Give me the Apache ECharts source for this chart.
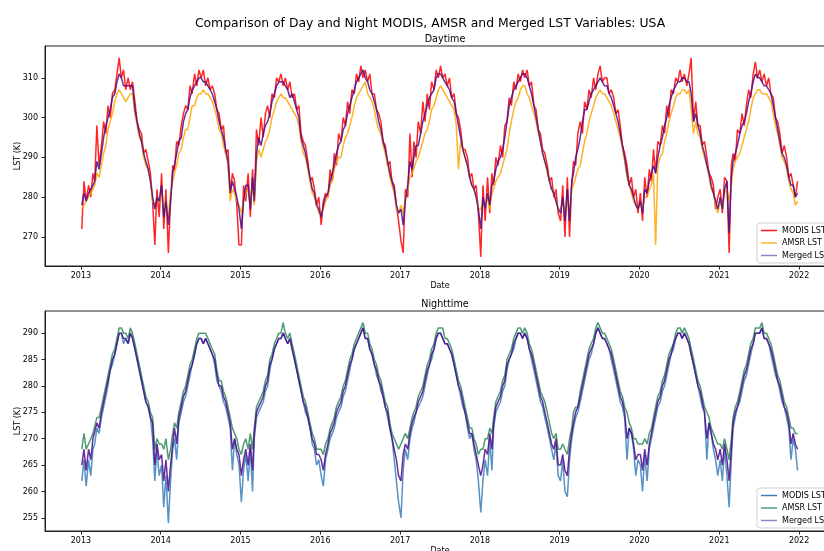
<!DOCTYPE html>
<html>
<head>
<meta charset="utf-8">
<script src="https://cdn.jsdelivr.net/npm/echarts@6/dist/echarts.min.js"></script>
<style>html,body{margin:0;padding:0;background:#fff;}#c{width:824px;height:551px;}</style>
</head>
<body>
<div id="c"></div>
<script>
// ---------------- DATA ----------------
const years = [2013,2014,2015,2016,2017,2018,2019,2020,2021];
const sampleDays = [5,15,25]; // three readings per month
const yearTicks = [2013,2014,2015,2016,2017,2018,2019,2020,2021,2022];
const dayTicks = [270,280,290,300,310];
const nightTicks = [255,260,265,270,275,280,285,290];
const seriesNames = ['MODIS LST','AMSR LST','Merged LST'];

// Daytime (K), 36 readings per year, 2013..2021
const dayModis = [
 272,284,279, 283,280,286, 284,298,288, 293,299,296, 303,300,306, 307,311,315, 310,312,307, 310,307,309, 304,299,297, 296,291,292, 289,286,279, 268,282,275,
 286,272,282, 266,279,288, 287,294,293, 298,301,303, 302,308,306, 311,308,312, 310,312,308, 310,307,308, 306,302,301, 297,298,291, 292,281,286, 284,278,268,
 268,283,279, 286,275,287, 279,297,293, 300,295,301, 303,300,306, 305,310,309, 311,308,310, 307,309,305, 306,302,303, 296,294,293, 289,284,285, 282,278,280,
 273,279,281, 280,287,284, 291,288,296, 294,300,298, 304,301,307, 306,311,309, 313,310,312, 309,311,306, 306,302,301, 299,294,293, 288,289,284, 283,278,274,
 269,266,282, 280,296,285, 294,290,299, 296,304,299, 306,302,309, 307,312,310, 313,310,311, 308,310,305, 306,301,300, 297,292,292, 290,285,286, 282,283,276,
 265,283,274, 285,276,286, 283,290,288, 293,290,298, 299,305,303, 309,307,311, 309,312,310, 312,308,309, 303,302,297, 296,292,291, 288,284,285, 280,282,276,
 274,283,270, 285,270,283, 289,288,296, 299,296,304, 302,307,305, 310,307,311, 313,309,310, 310,306,307, 305,301,302, 298,293,291, 288,283,285, 280,282,276,
 281,274,285, 280,287,284, 292,286,294, 293,298,296, 303,300,307, 306,310,309, 312,309,311, 308,311,315, 299,304,298, 298,293,294, 290,286,285, 283,277,280,
 282,276,285, 284,266,288, 291,289,297, 296,301,298, 303,307,305, 311,314,310, 312,309,311, 308,310,306, 305,300,299, 296,291,293, 290,285,286, 283,280,284
];
const dayAmsr = [
 277,278,279, 280,281,282, 283,286,285, 288,291,293, 297,299,301, 304,306,307, 306,305,304, 305,306,306, 301,298,295, 294,290,288, 287,284,279, 278,280,279,
 281,277,279, 275,281,284, 286,288,291, 292,295,297, 297,300,303, 303,305,306, 306,307,306, 306,305,304, 302,300,297, 296,293,291, 288,279,282, 281,279,278,
 276,279,281, 282,278,283, 278,289,292, 290,292,294, 295,297,300, 302,304,305, 306,305,305, 304,303,302, 301,300,298, 294,291,290, 287,284,281, 280,278,276,
 276,277,279, 280,283,284, 287,289,290, 290,293,295, 296,298,300, 303,305,306, 307,308,309, 306,305,304, 302,299,297, 296,293,291, 288,285,283, 281,277,276,
 278,276,280, 282,285,286, 286,289,290, 292,294,296, 297,299,302, 303,305,307, 308,307,306, 305,304,303, 302,298,287, 294,292,290, 288,285,283, 282,280,277,
 277,279,277, 280,277,281, 282,284,285, 286,288,290, 292,296,299, 302,304,305, 307,308,308, 306,305,303, 301,299,296, 294,291,289, 286,284,282, 281,279,277,
 277,279,276, 280,276,282, 283,285,287, 288,291,294, 296,299,301, 303,305,306, 307,306,306, 305,304,303, 301,299,297, 295,292,289, 285,283,281, 279,278,277,
 278,277,280, 280,282,283, 286,268,288, 290,291,294, 296,299,301, 303,305,306, 306,307,307, 306,307,302, 296,299,296, 295,292,290, 288,285,282, 281,278,276,
 279,277,281, 282,279,283, 287,289,290, 291,293,295, 297,299,302, 305,306,307, 307,306,306, 306,305,304, 301,298,296, 293,290,289, 287,284,282, 281,278,279
];
const dayMerged = [
 278,281,279, 281,282,283, 284,289,287, 291,295,298, 300,302,305, 306,309,311, 310,308,308, 308,308,308, 302,299,296, 294,291,289, 287,284,280, 277,280,279,
 283,275,279, 273,279,286, 288,291,294, 295,299,301, 302,305,307, 308,309,310, 310,309,309, 308,307,306, 304,302,299, 297,295,292, 289,281,284, 282,280,277,
 272,279,283, 283,277,285, 279,291,295, 293,296,298, 299,301,304, 306,308,309, 309,309,308, 307,305,306, 304,302,300, 295,293,291, 288,285,282, 281,278,277,
 275,278,280, 281,284,286, 288,291,293, 294,297,298, 301,303,305, 307,309,310, 311,312,310, 309,307,306, 304,302,299, 297,294,292, 289,286,284, 282,278,276,
 277,273,279, 283,289,287, 290,293,293, 296,299,301, 303,305,306, 307,310,311, 311,310,309, 308,307,305, 304,301,298, 295,292,290, 288,285,283, 282,280,277,
 272,280,277, 281,278,283, 284,287,289, 290,292,295, 299,303,305, 307,308,309, 310,311,311, 310,308,306, 303,300,297, 294,291,289, 287,284,282, 281,279,277,
 276,280,274, 282,274,284, 286,290,292, 295,299,302, 302,304,306, 307,308,309, 310,309,308, 308,306,305, 303,301,299, 296,293,290, 286,283,282, 280,278,277,
 279,276,282, 281,284,286, 288,286,290, 293,295,298, 300,303,305, 307,308,309, 309,310,310, 309,309,306, 299,301,298, 296,293,291, 288,286,283, 281,279,277,
 280,277,282, 284,271,285, 289,291,293, 296,298,299, 301,304,306, 309,311,310, 310,309,308, 308,307,306, 303,300,297, 294,291,290, 288,285,283, 283,280,281
];

// Nighttime (K)
const nightModis = [
 262,266,261, 266,263,268, 269,272,271, 274,276,278, 280,283,284, 286,288,290, 290,288,289, 288,290,289, 287,285,283, 281,279,277, 276,274,270, 262,268,263,
 265,257,263, 254,262,268, 270,266,273, 275,277,278, 280,282,284, 286,288,289, 289,288,289, 288,287,286, 284,281,280, 279,277,276, 274,272,264, 270,267,265,
 258,264,267, 262,268,260, 270,274,275, 276,277,279, 280,283,285, 287,288,289, 289,290,289, 288,289,287, 285,283,281, 279,277,275, 274,272,269, 268,265,266,
 263,261,266, 268,270,271, 272,274,275, 276,278,279, 281,283,285, 287,288,289, 290,291,289, 289,287,286, 284,282,281, 279,278,276, 274,272,270, 266,262,258,
 255,264,268, 266,270,272, 273,275,276, 277,278,280, 282,284,285, 287,289,290, 290,289,288, 288,287,286, 284,282,280, 278,276,275, 272,270,271, 268,266,262,
 256,262,266, 263,270,264, 272,275,276, 277,279,280, 283,285,286, 287,289,290, 290,289,290, 289,287,285, 283,281,279, 277,276,274, 272,270,268, 266,269,263,
 262,266,260, 259,266,270, 272,274,275, 277,279,281, 283,285,286, 288,290,291, 290,289,289, 288,287,285, 283,281,279, 277,276,274, 266,272,271, 268,263,266,
 265,260,267, 262,268,270, 272,274,276, 277,279,280, 282,284,286, 287,289,290, 290,289,290, 289,288,286, 284,282,280, 278,276,275, 266,273,271, 268,266,263,
 266,262,268, 263,257,266, 272,274,276, 277,279,281, 282,284,286, 288,290,290, 290,291,289, 289,288,286, 284,282,281, 279,277,276, 274,272,266, 270,268,264
];
const nightAmsr = [
 268,271,268, 269,270,271, 271,274,274, 276,278,280, 282,284,286, 287,289,291, 291,290,290, 289,291,290, 288,286,284, 282,280,278, 277,275,274, 268,270,269,
 269,268,270, 266,268,271, 273,272,275, 277,279,280, 282,284,285, 287,289,290, 290,290,290, 289,288,287, 286,283,281, 281,279,278, 276,274,272, 271,270,268,
 267,269,270, 268,271,268, 272,276,277, 278,279,281, 282,285,286, 288,289,290, 290,292,290, 289,290,288, 286,284,282, 280,278,277, 275,273,271, 270,268,268,
 268,267,269, 270,272,273, 274,276,277, 278,280,281, 283,285,286, 288,289,290, 291,292,290, 290,288,287, 285,284,282, 281,279,277, 276,273,271, 270,269,268,
 269,270,271, 270,272,274, 275,276,278, 279,280,282, 284,285,287, 288,290,291, 291,291,289, 289,288,287, 285,283,281, 280,278,276, 274,272,272, 270,269,267,
 268,268,270, 270,272,271, 274,277,278, 279,281,282, 285,286,287, 289,290,291, 291,290,291, 290,288,287, 285,283,281, 279,278,277, 275,273,271, 270,271,268,
 268,269,268, 267,270,272, 275,276,276, 279,281,283, 285,287,288, 289,291,292, 291,290,290, 289,288,287, 285,283,281, 279,278,276, 275,273,272, 270,270,269,
 269,269,270, 269,271,272, 274,276,278, 279,281,282, 284,286,287, 288,290,291, 291,290,291, 290,289,287, 285,283,281, 280,278,276, 275,274,272, 271,270,269,
 269,268,270, 268,266,270, 274,276,277, 279,281,283, 284,286,288, 289,291,291, 291,292,290, 290,289,288, 286,284,282, 281,279,277, 276,274,272, 272,271,271
];
const nightMerged = [
 265,268,264, 268,266,270, 270,273,272, 275,277,279, 281,283,285, 286,288,290, 290,289,289, 288,290,289, 287,285,283, 281,279,277, 276,274,273, 265,269,266,
 267,262,266, 260,265,269, 272,269,274, 276,278,279, 281,283,284, 286,288,289, 289,288,289, 288,287,286, 285,282,280, 280,278,277, 275,273,268, 270,268,267,
 263,266,268, 265,269,264, 271,275,276, 277,278,280, 281,284,285, 287,288,289, 289,290,289, 288,289,287, 285,283,281, 279,277,276, 274,272,270, 269,267,267,
 266,264,267, 269,271,272, 273,275,276, 277,279,280, 282,284,285, 287,288,289, 290,291,289, 289,287,286, 284,283,281, 280,278,276, 275,272,270, 268,266,263,
 262,267,269, 268,271,273, 274,275,277, 278,279,281, 283,284,286, 287,289,290, 290,289,288, 288,287,286, 284,282,280, 279,277,275, 273,271,271, 269,267,265,
 263,265,268, 267,271,268, 273,276,277, 278,280,281, 284,285,286, 288,289,290, 290,289,290, 289,287,286, 284,282,280, 278,277,275, 273,271,269, 268,270,265,
 265,267,264, 263,268,271, 273,275,276, 278,280,282, 284,286,287, 288,290,291, 290,289,289, 288,287,286, 284,282,280, 278,277,275, 270,272,271, 269,266,267,
 267,264,268, 265,269,271, 273,275,277, 278,280,281, 283,285,286, 288,289,290, 290,289,290, 289,288,286, 284,282,280, 279,277,275, 270,273,271, 269,268,266,
 268,265,269, 266,262,268, 273,275,276, 278,280,282, 283,285,287, 288,290,290, 290,291,289, 289,288,287, 285,283,281, 280,278,276, 275,273,269, 271,269,268
];

// ---------------- CHART ----------------
// decimal-year positions of the readings
const xs = [];
years.forEach(y => {
  const y0 = Date.UTC(y,0,1), y1 = Date.UTC(y+1,0,1);
  for (let m = 0; m < 12; m++) sampleDays.forEach(d => xs.push(y + (Date.UTC(y,m,d) - y0) / (y1 - y0)));
});
const pair = arr => arr.map((v,i) => [xs[i], v]);

const FONT = 'DejaVu Sans';
const FS = 8;
const axisCol = '#222';
function xAxisCfg(gi) {
  return {
    type:'value', gridIndex:gi, min:2012.55, max:2022.45,
    name:'Date', nameLocation:'middle', nameGap:16, nameMoveOverlap:false,
    nameTextStyle:{fontFamily:FONT,fontSize:FS,color:'#000'},
    axisLine:{show:true,onZero:false,lineStyle:{color:axisCol,width:1}},
    axisTick:{show:true,length:3.5,customValues:yearTicks,lineStyle:{color:axisCol}},
    axisLabel:{customValues:yearTicks,margin:6,fontFamily:FONT,fontSize:FS,color:'#000',formatter:v=>String(Math.round(v))},
    splitLine:{show:false}
  };
}
function yAxisCfg(gi, mn, mx, ticks) {
  return {
    type:'value', gridIndex:gi, min:mn, max:mx,
    name:'LST (K)', nameLocation:'middle', nameGap:23, nameMoveOverlap:false,
    nameTextStyle:{fontFamily:FONT,fontSize:FS,color:'#000'},
    axisLine:{show:true,onZero:false,lineStyle:{color:axisCol,width:1}},
    axisTick:{show:true,length:3.5,customValues:ticks,lineStyle:{color:axisCol}},
    axisLabel:{customValues:ticks,margin:7,fontFamily:FONT,fontSize:FS,color:'#000'},
    splitLine:{show:false}
  };
}
function lineSeries(name, gi, data, color, op) {
  return {
    type:'line', name, xAxisIndex:gi, yAxisIndex:gi, data:pair(data),
    symbol:'none', lineStyle:{color, width:1.5, opacity:op}, itemStyle:{color},
    animation:false, silent:true
  };
}
function legendCfg(top, cols) {
  return {
    orient:'vertical', left:757, top,
    icon:'rect', itemWidth:16, itemHeight:1.5, itemGap:3.5,
    padding:[3,6,3,4],
    borderColor:'#d0d0d0', borderWidth:1, borderRadius:3,
    backgroundColor:'rgba(255,255,255,0.85)',
    textStyle:{fontFamily:FONT,fontSize:FS,color:'#000',lineHeight:9},
    selectedMode:false,
    data: seriesNames.map((n,i)=>({name:n, itemStyle:{color:cols[i]}}))
  };
}

const chart = echarts.init(document.getElementById('c'), null, {renderer:'canvas'});
chart.setOption({
  animation:false,
  backgroundColor:'#fff',
  title:[
    {text:'Comparison of Day and Night MODIS, AMSR and Merged LST Variables: USA', left:425, top:13, textAlign:'center',
     textStyle:{fontFamily:FONT,fontSize:12.4,fontWeight:'normal',color:'#000'}},
    {text:'Daytime', left:440, top:29, textAlign:'center', textStyle:{fontFamily:FONT,fontSize:9.6,fontWeight:'normal',color:'#000'}},
    {text:'Nighttime', left:440, top:294, textAlign:'center', textStyle:{fontFamily:FONT,fontSize:9.6,fontWeight:'normal',color:'#000'}}
  ],
  grid:[
    {left:45, top:46, right:-11, height:220, show:true, borderColor:axisCol, borderWidth:1, backgroundColor:'transparent', containLabel:false, outerBoundsMode:'none'},
    {left:45, top:311, right:-11, height:220, show:true, borderColor:axisCol, borderWidth:1, backgroundColor:'transparent', containLabel:false, outerBoundsMode:'none'}
  ],
  xAxis:[xAxisCfg(0), xAxisCfg(1)],
  yAxis:[yAxisCfg(0,262.7,318,dayTicks), yAxisCfg(1,252.5,294.2,nightTicks)],
  legend:[
    legendCfg(223, ['#ff1a1a','#ffb733','#a07fc6']),
    legendCfg(488, ['#3a7fc0','#4ea476','#a07fc6'])
  ],
  series:[
    lineSeries(seriesNames[0],0,dayModis,'#ff0000',0.85),
    lineSeries(seriesNames[1],0,dayAmsr,'#ffa500',0.85),
    lineSeries(seriesNames[2],0,dayMerged,'#4b0a8c',0.85),
    lineSeries(seriesNames[0],1,nightModis,'#3a7fb8',0.85),
    lineSeries(seriesNames[1],1,nightAmsr,'#2e8b57',0.85),
    lineSeries(seriesNames[2],1,nightMerged,'#4b0a8c',0.85)
  ]
});
</script>
</body>
</html>
